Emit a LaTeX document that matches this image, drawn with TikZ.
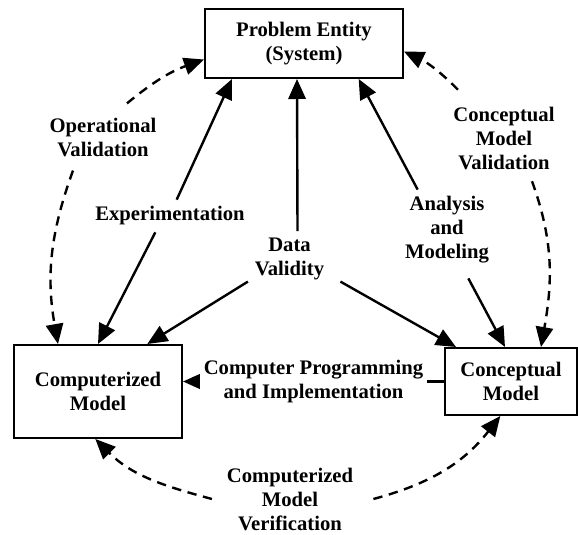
\documentclass[tikz,border=0pt]{standalone}
\usepackage{fontspec}
\setmainfont{Liberation Serif}
\usetikzlibrary{arrows.meta}

\begin{document}
\begin{tikzpicture}[
        x=0.75pt, y=0.75pt,
        every node/.style={font=\bfseries\fontsize{15.5}{18}\selectfont, align=center, inner sep=5pt},
        box/.style={draw, line width=1.5pt},
        arr/.style={line width=1.8pt, -{Triangle[length=15pt,width=13pt]}},
        dasharr/.style={arr, dash pattern=on 7pt off 5pt},
    ]
    \useasboundingbox (0,0) rectangle (578,535);

    \node[box, minimum width=148.5pt, minimum height=51.75pt] (prob) at (304,491.5) {Problem Entity\\(System)};
    \node[box, minimum width=126pt, minimum height=69.75pt] (comp) at (98,143.5) {Computerized\\Model};
    \node[box, minimum width=99pt, minimum height=50.25pt] (conc) at (511,153.5) {Conceptual\\Model};

    \node (opval) at (103,398) {Operational\\Validation};
    \node (exper) at (170,319) {Experimentation};
    \node (data) at (289.5,276) {Data\\Validity};
    \node (anal) at (447,305) {Analysis\\and\\Modeling};
    \node (cmval) at (504,397) {Conceptual\\Model\\Validation};
    \node[inner sep=3pt] (verif) at (290,36) {Computerized\\Model\\Verification};

    \draw[arr] ([xshift=5pt]exper.north) -- ([xshift=21pt]prob.south west);
    \draw[arr] ([xshift=-11pt]exper.south) -- (comp.north);
    \draw[arr] ([xshift=6pt]data.north) -- ([xshift=-5.25pt]prob.south);
    \draw[arr] ([yshift=4pt]data.south west) -- ([xshift=37pt]comp.north);
    \draw[arr] ([shift={(7pt,4pt)}]data.south east) -- ([xshift=9pt]conc.north west);
    \draw[arr] ([xshift=-22pt]anal.north) -- ([xshift=-34pt]prob.south east);
    \draw[arr] ([shift={(16pt,-6pt)}]anal.south) -- ([xshift=-4.5pt]conc.north);
    \draw[arr] (conc.west) -- node[fill=white, inner sep=3pt] (prog) {Computer Programming\\and Implementation} (comp.east |- conc.west);

    \draw[dasharr] ([shift={(18pt,5.5pt)}]opval.north) to[bend left=10] ([yshift=-12pt]prob.west);
    \draw[dasharr] ([shift={(-22.5pt,-5.5pt)}]opval.south) to[out=250,in=100] ([xshift=-30pt]comp.north);
    \draw[dasharr] ([shift={(-34.5pt,7.5pt)}]cmval.north) to[bend right=10] ([yshift=-6pt]prob.east);
    \draw[dasharr] ([shift={(21pt,-3.75pt)}]cmval.south) to[out=-70,in=80] ([xshift=-27.75pt]conc.north east);
    \draw[dasharr] ([shift={(-8pt,0pt)}]verif.west) to[out=165,in=-45] ([xshift=-2pt]comp.south);
    \draw[dasharr] ([xshift=12pt]verif.east) to[out=15,in=-128] ([xshift=-8pt]conc.south);
\end{tikzpicture}
\end{document}
